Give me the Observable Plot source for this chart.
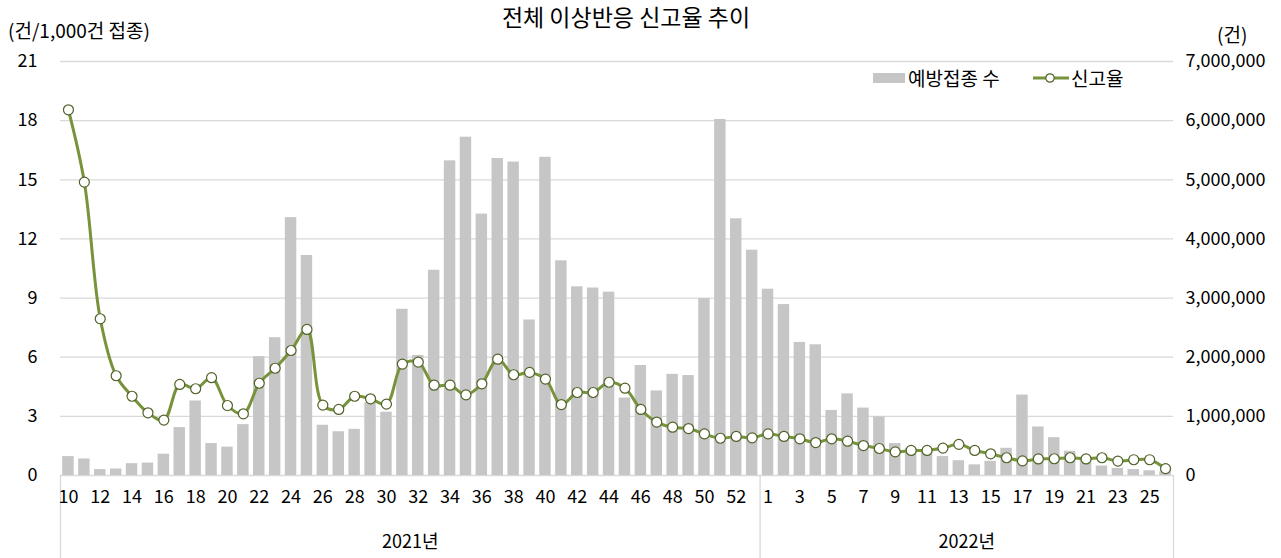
<!DOCTYPE html>
<html><head><meta charset="utf-8">
<script src="https://cdn.jsdelivr.net/npm/d3@7"></script>
<script src="https://cdn.jsdelivr.net/npm/@observablehq/plot@0.6"></script>
<style>
body{margin:0;background:#fff;font-family:"Noto Sans CJK KR","Noto Sans",sans-serif;color:#000;}
#wrap{position:relative;width:1281px;height:558px;overflow:hidden;}
#title{position:absolute;left:0;top:0;width:1252px;height:32px;line-height:32px;text-align:center;font-size:23px;}
#chart{position:absolute;left:0;top:30px;}
.lab{position:absolute;font-size:19px;line-height:20px;white-space:nowrap;}
.leg{position:absolute;display:flex;align-items:center;font-size:19px;line-height:22px;white-space:nowrap;}
</style></head>
<body>
<div id="wrap">
  <div id="title">전체 이상반응 신고율 추이</div>
  <div id="chart"></div>
  <div class="lab" style="left:8px;top:20px;">(건/1,000건 접종)</div>
  <div class="lab" style="left:1217px;top:25px;line-height:18px;">(건)</div>
  <div class="leg" style="left:873px;top:67px;"><span style="display:inline-block;width:32px;height:10px;background:#c6c6c6;margin-right:3px;"></span>예방접종 수</div>
  <div class="leg" style="left:1033px;top:67px;"><svg width="36" height="12" style="margin-right:2px"><line x1="0" x2="36" y1="6" y2="6" stroke="#77933c" stroke-width="3"/><circle cx="17" cy="6" r="4.2" fill="#fff" stroke="#4f6228" stroke-width="1.2"/></svg>신고율</div>
</div>
<script>
const weeks2021 = [10,11,12,13,14,15,16,17,18,19,20,21,22,23,24,25,26,27,28,29,30,31,32,33,34,35,36,37,38,39,40,41,42,43,44,45,46,47,48,49,50,51,52,53];
const weeks2022 = [1,2,3,4,5,6,7,8,9,10,11,12,13,14,15,16,17,18,19,20,21,22,23,24,25,26];
const doses2021 = [320000,280000,100000,110000,200000,210000,360000,810000,1260000,540000,480000,860000,2010000,2330000,4360000,3720000,850000,740000,780000,1230000,1070000,2810000,2030000,3470000,5320000,5720000,4420000,5360000,5300000,2630000,5380000,3630000,3190000,3170000,3100000,1310000,1860000,1430000,1710000,1690000,2990000,6020000,4340000,3810000];
const doses2022 = [3150000,2890000,2250000,2210000,1100000,1380000,1140000,990000,540000,460000,390000,320000,250000,180000,240000,460000,1360000,820000,640000,410000,310000,160000,120000,100000,80000,60000];
const rate2021 = [18.55,14.88,7.95,5.06,4.02,3.18,2.81,4.62,4.40,4.96,3.55,3.13,4.68,5.44,6.34,7.41,3.57,3.35,4.02,3.89,3.62,5.65,5.75,4.58,4.58,4.09,4.65,5.90,5.11,5.23,4.89,3.60,4.21,4.21,4.73,4.43,3.35,2.71,2.45,2.38,2.11,1.89,1.98,1.91];
const rate2022 = [2.11,1.98,1.86,1.67,1.86,1.74,1.52,1.37,1.20,1.27,1.27,1.39,1.58,1.27,1.10,0.90,0.74,0.84,0.85,0.90,0.84,0.90,0.73,0.80,0.80,0.35];
const leftTicks = [0,3,6,9,12,15,18,21];
const rightTicks = [0,1000000,2000000,3000000,4000000,5000000,6000000,7000000];
const years = ["2021년","2022년"];

const rows = [];
weeks2021.forEach((w,i)=>rows.push({key:"2021-"+w, week:w, doses:doses2021[i], rate:rate2021[i]}));
weeks2022.forEach((w,i)=>rows.push({key:"2022-"+w, week:w, doses:doses2022[i], rate:rate2022[i]}));
const keys = rows.map(d=>d.key);
const weekOf = new Map(rows.map(d=>[d.key,d.week]));
const labeled = keys.filter((k,i)=>i%2===0);

const W = 1281, H = 528, mL = 60, mR = 108, mT = 31, mB = 83;
const step = (W - mL - mR) / keys.length;
const k = 21 / 7000000; // right axis -> left axis units
const green = "#77933c", dark = "#4f6228", grid = "#d9d9d9";

const chart = Plot.plot({
  width: W, height: H,
  marginLeft: mL, marginRight: mR, marginTop: mT, marginBottom: mB,
  style: {fontFamily: '"Noto Sans CJK KR","Noto Sans",sans-serif', fontSize: "18px", color: "#000", background: "#fff"},
  x: {type: "band", domain: keys, paddingInner: 0.28, paddingOuter: 0.14, label: null},
  y: {domain: [0, 21], label: null},
  marks: [
    Plot.ruleY(leftTicks, {stroke: grid, strokeWidth: 1.3}),
    Plot.barY(rows, {x: "key", y: d => d.doses * k, fill: "#c6c6c6"}),
    Plot.ruleX([keys[0], "2022-1"], {x: d => d, y1: 0, y2: 0, insetBottom: -mB, dx: -step/2, stroke: grid, strokeWidth: 1.3}),
    Plot.ruleX([keys[keys.length-1]], {x: d => d, y1: 0, y2: 0, insetBottom: -mB, dx: step/2, stroke: grid, strokeWidth: 1.3}),
    Plot.line(rows, {x: "key", y: "rate", stroke: green, strokeWidth: 3, curve: "catmull-rom"}),
    Plot.dot(rows, {x: "key", y: "rate", r: 5, fill: "#fff", stroke: dark, strokeWidth: 1.2}),
    Plot.axisY(leftTicks, {anchor: "left", label: null, tickSize: 0, tickPadding: 23, fontSize: 18}),
    Plot.axisY(rightTicks.map(v => v * k), {anchor: "right", label: null, tickSize: 0, tickPadding: 12, fontSize: 18, tickFormat: d => d3.format(",")(Math.round(d / k))}),
    Plot.axisX(labeled, {anchor: "bottom", label: null, tickSize: 0, tickPadding: 15, fontSize: 18, tickFormat: d => String(weekOf.get(d))}),
    Plot.text(years, {x: (d, i) => i === 0 ? "2021-31" : "2022-13", text: d => d, frameAnchor: "bottom", dy: 72, dx: step/2, fontSize: 18})
  ]
});
document.getElementById("chart").appendChild(chart);
</script>
</body></html>
